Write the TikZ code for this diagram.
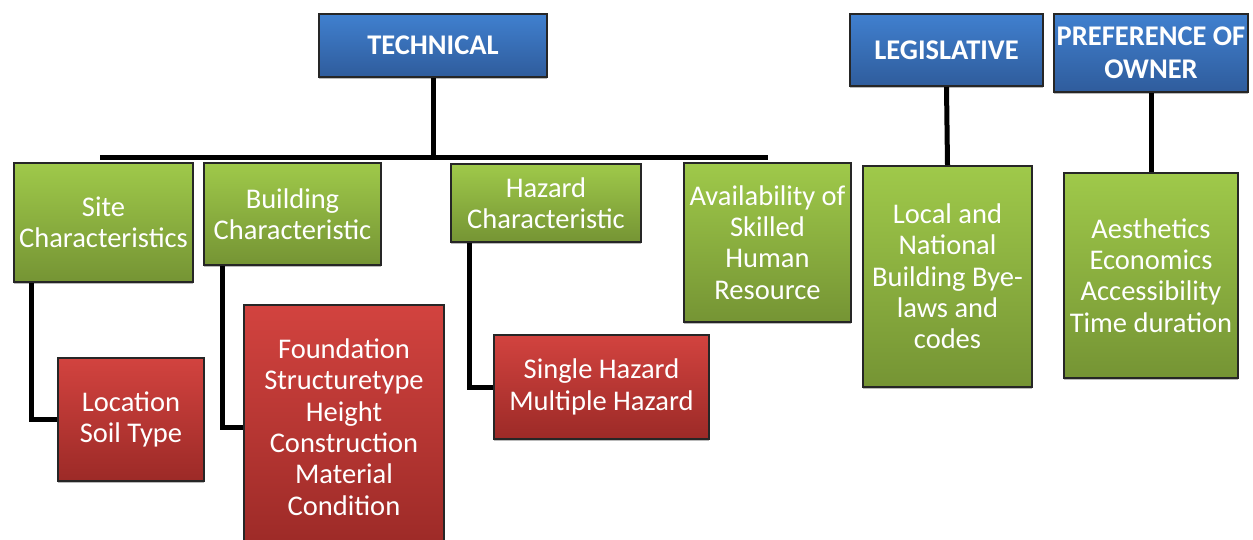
\documentclass[tikz,border=0pt]{standalone}
\usepackage{fontspec}
\setmainfont{Carlito}
\usetikzlibrary{shadows}
\definecolor{blueTop}{HTML}{4080CF}
\definecolor{blueBot}{HTML}{2F5C9C}
\definecolor{greenTop}{HTML}{9FC94A}
\definecolor{greenBot}{HTML}{759434}
\definecolor{redTop}{HTML}{D2433F}
\definecolor{redBot}{HTML}{9C2A27}
\definecolor{boxline}{HTML}{262626}
\begin{document}
\begin{tikzpicture}[x=1pt,y=-1pt,
  box/.style={draw=boxline, line width=2pt, inner sep=0pt, align=center,
    text=white, anchor=north west,
    drop shadow={shadow xshift=0pt, shadow yshift=-2pt, fill=black!45, opacity=0.6}},
  head/.style={box, top color=blueTop, bottom color=blueBot,
    font=\bfseries\fontsize{28.5}{33}\selectfont},
  gbox/.style={box, top color=greenTop, bottom color=greenBot,
    font=\fontsize{28.5}{31.3}\selectfont},
  rbox/.style={box, top color=redTop, bottom color=redBot,
    font=\fontsize{28.5}{31.3}\selectfont},
  wire/.style={line width=5pt, black}]
\useasboundingbox (0,0) rectangle (1253,539);
\fill[white] (0,0) rectangle (1253,539);
\clip (0,0) rectangle (1253,539);

% top-level categories
\node[head, minimum width=228pt, minimum height=63pt] (tech) at (318,13) {TECHNICAL};
\node[head, minimum width=193pt, minimum height=72pt] (legis) at (849,13) {LEGISLATIVE};
\node[head, minimum width=194pt, minimum height=78pt] (owner) at (1053,13) {PREFERENCE OF\\OWNER};

% technical sub-factors
\node[gbox, minimum width=179pt, minimum height=119pt] (site) at (13,162) {Site\\Characteristics};
\node[gbox, minimum width=177pt, minimum height=102pt] (bldg) at (203,162) {Building\\Characteristic};
\node[gbox, minimum width=190pt, minimum height=78pt] (hazard) at (450,163) {Hazard\\Characteristic};
\node[gbox, minimum width=167pt, minimum height=159pt] (skill) at (683,162) {Availability of\\Skilled\\Human\\Resource};

% legislative and owner items
\node[gbox, minimum width=169pt, minimum height=221pt] (codes) at (862,165) {Local and\\National\\Building Bye-\\laws and\\codes};
\node[gbox, minimum width=174pt, minimum height=205pt] (pref) at (1063,172) {Aesthetics\\Economics\\Accessibility\\Time duration};

% detail boxes
\node[rbox, minimum width=146pt, minimum height=123pt] (loc) at (57,357) {Location\\Soil Type};
\node[rbox, minimum width=200pt, minimum height=244pt] (found) at (243,304) {Foundation\\Structuretype\\Height\\Construction\\Material\\Condition};
\node[rbox, minimum width=215pt, minimum height=104pt] (single) at (493,334) {Single Hazard\\Multiple Hazard};

% connectors
\coordinate (barL) at (100,157.5);
\coordinate (barR) at (768,157.5);
\draw[wire] (barL) -- (barR);
\draw[wire] (tech.south) -- (tech.south |- barL);
\draw[wire] (legis.south) -- (codes.north);
\draw[wire] (owner.south) -- (pref.north);
\draw[wire] ([xshift=18pt]site.south west) |- (loc.west);
\draw[wire] ([xshift=19pt]bldg.south west) |- (found.west);
\draw[wire] ([xshift=19pt]hazard.south west) |- (single.west);
\end{tikzpicture}
\end{document}
